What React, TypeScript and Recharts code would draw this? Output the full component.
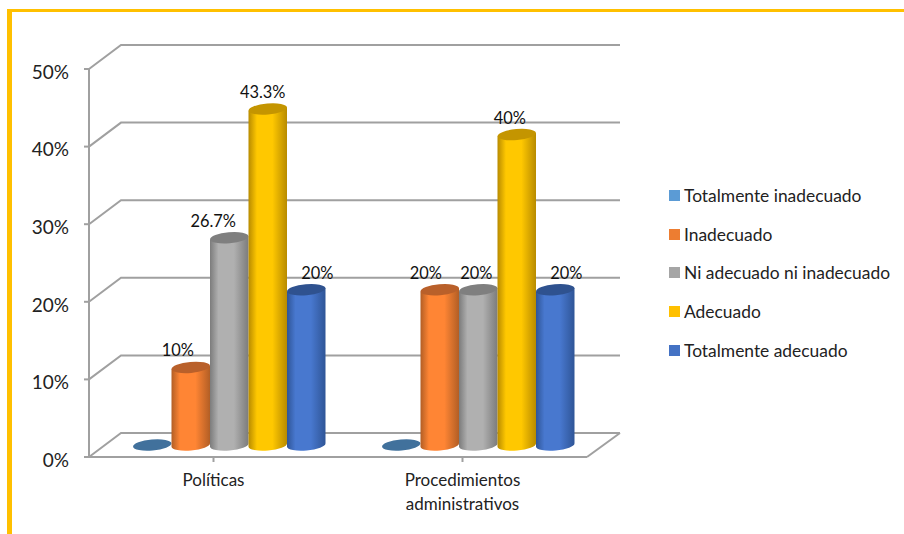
import { BarChart, Bar, XAxis, YAxis, CartesianGrid, Legend, LabelList } from "recharts";

const categories = ["Políticas", "Procedimientos administrativos"];
const seriesNames = [
  "Totalmente inadecuado",
  "Inadecuado",
  "Ni adecuado ni inadecuado",
  "Adecuado",
  "Totalmente adecuado",
];
const totalmenteInadecuado = [0, 0];
const inadecuado = [10, 20];
const niAdecuado = [26.7, 20];
const adecuado = [43.3, 40];
const totalmenteAdecuado = [20, 20];
const yTicks = [0, 10, 20, 30, 40, 50];

const seriesValues = [totalmenteInadecuado, inadecuado, niAdecuado, adecuado, totalmenteAdecuado];
const data = categories.map((name, i) => {
  const row: Record<string, string | number> = { name };
  seriesNames.forEach((s, j) => (row[s] = seriesValues[j][i]));
  return row;
});

// legend fill, cylinder edge, cylinder middle, cap
const FILLS = ["#5B9BD5", "#ED7D31", "#A5A5A5", "#FFC000", "#4472C4"];
const EDGES = ["#41719C", "#B25E25", "#7C7C7C", "#B88B00", "#2F5597"];
const MIDS = ["#5B9BD5", "#FF8534", "#B0B0B0", "#FFC800", "#4878CF"];
const CAPS = ["#41719C", "#B9602A", "#7F7F7F", "#C49500", "#2F528F"];

// horizontal nudge of each value label, per series and category
const LABEL_NUDGE = [
  [0, 0],
  [-13, -14],
  [-16, -2],
  [-5, -7],
  [11, 11],
];

// depth of the floor and walls
const DEPTH_X = 32;
const DEPTH_Y = 24;
const GRID = "#A0A0A0";
const FONT = "Lato, Carlito, sans-serif";

const TILT = 5;
const CAP_RY = 5.5;

function Cylinder(props: any) {
  const { x, y, width, height, series } = props;
  const rx = width / 2;
  const left = x + DEPTH_X / 2;
  const right = left + width;
  const cx = left + rx;
  const top = y - DEPTH_Y / 2;
  const bottom = top + height;
  const lean = rx * Math.sin((TILT * Math.PI) / 180);
  const cap = (
    <ellipse
      cx={cx}
      cy={top}
      rx={rx}
      ry={CAP_RY}
      fill={CAPS[series]}
      transform={`rotate(${-TILT} ${cx} ${top})`}
    />
  );
  if (!height) return <g>{cap}</g>;
  return (
    <g>
      <path
        d={`M${left},${top + lean} L${left},${bottom + lean} A${rx},${CAP_RY} ${-TILT} 0 0 ${right},${bottom - lean} L${right},${top - lean} Z`}
        fill={`url(#cyl-${series})`}
      />
      {cap}
    </g>
  );
}

// wall line for one value: side wall going back, then along the back wall
function WallLine(props: any) {
  const { x1, x2, y1, index } = props;
  const bx = x1 + DEPTH_X;
  const by = y1 - DEPTH_Y;
  const endX = x2 + DEPTH_X + 1;
  return (
    <g key={index}>
      <polyline points={`${x1},${y1} ${bx},${by} ${endX},${by}`} fill="none" stroke={GRID} strokeWidth={2} />
      {y1 > 400 && <line x1={x2} y1={y1} x2={endX} y2={by} stroke={GRID} strokeWidth={2} />}
    </g>
  );
}

function CategoryTick({ x, y, payload }: any) {
  const lines = String(payload.value).split(" ");
  return (
    <text x={x} y={y} textAnchor="middle" fontFamily={FONT} fontSize={17} fill="#222">
      {lines.map((line, i) => (
        <tspan key={line} x={x} dy={i === 0 ? 22 : 24}>
          {line}
        </tspan>
      ))}
    </text>
  );
}

function ValueLabel({ x, y, width, value, index, series }: any) {
  if (!value) return null;
  return (
    <text
      x={x + width / 2 + DEPTH_X / 2 + LABEL_NUDGE[series][index]}
      y={y - DEPTH_Y / 2 - 11}
      textAnchor="middle"
      fontFamily={FONT}
      fontSize={16.4}
      fill="#111"
    >
      {`${value}%`}
    </text>
  );
}

function LegendList() {
  return (
    <div style={{ fontFamily: FONT, fontSize: 17.4, color: "#222" }}>
      {seriesNames.map((name, i) => (
        <div key={name} style={{ display: "flex", alignItems: "center", height: 38.8, whiteSpace: "nowrap" }}>
          <span style={{ width: 11, height: 11, background: FILLS[i], marginRight: 4 }} />
          {name}
        </div>
      ))}
    </div>
  );
}

export default function App() {
  return (
    <div style={{ position: "absolute", left: 0, top: 0, width: 904, height: 534, background: "#fff", overflow: "hidden" }}>
      <div
        style={{
          position: "absolute",
          left: 7,
          top: 9,
          right: 0,
          bottom: 0,
          borderTop: "3px solid #FFC000",
          borderLeft: "5px solid #FFC000",
        }}
      />
      <BarChart
        width={904}
        height={534}
        data={data}
        margin={{ top: 69, right: 82, bottom: 47, left: 29 }}
        barSize={38.5}
        barGap={0}
        style={{ position: "absolute", left: 0, top: 0 }}
      >
        <defs>
          {FILLS.map((_, i) => (
            <linearGradient key={i} id={`cyl-${i}`} x1="0" y1="0" x2="1" y2="0">
              <stop offset="0%" stopColor={EDGES[i]} />
              <stop offset="22%" stopColor={MIDS[i]} />
              <stop offset="62%" stopColor={MIDS[i]} />
              <stop offset="100%" stopColor={EDGES[i]} />
            </linearGradient>
          ))}
        </defs>
        <CartesianGrid vertical={false} horizontal={(p: any) => <WallLine {...p} />} />
        <XAxis
          dataKey="name"
          height={30}
          interval={0}
          stroke={GRID}
          strokeWidth={2}
          tickSize={5}
          tick={<CategoryTick />}
        />
        <YAxis
          width={60}
          domain={[0, 50]}
          ticks={yTicks}
          stroke={GRID}
          strokeWidth={2}
          tickSize={5}
          tickMargin={15}
          tickFormatter={(v) => `${v}%`}
          tick={{ fontFamily: FONT, fontSize: 19, fill: "#222", dy: 3 }}
        />
        <Legend
          layout="vertical"
          align="right"
          verticalAlign="top"
          content={<LegendList />}
          wrapperStyle={{ left: 669, top: 176, width: 235 }}
        />
        {seriesNames.map((name, i) => (
          <Bar
            key={name}
            dataKey={name}
            fill={FILLS[i]}
            isAnimationActive={false}
            shape={(p: any) => <Cylinder {...p} series={i} />}
          >
            <LabelList content={(p: any) => <ValueLabel {...p} series={i} />} />
          </Bar>
        ))}
      </BarChart>
    </div>
  );
}
